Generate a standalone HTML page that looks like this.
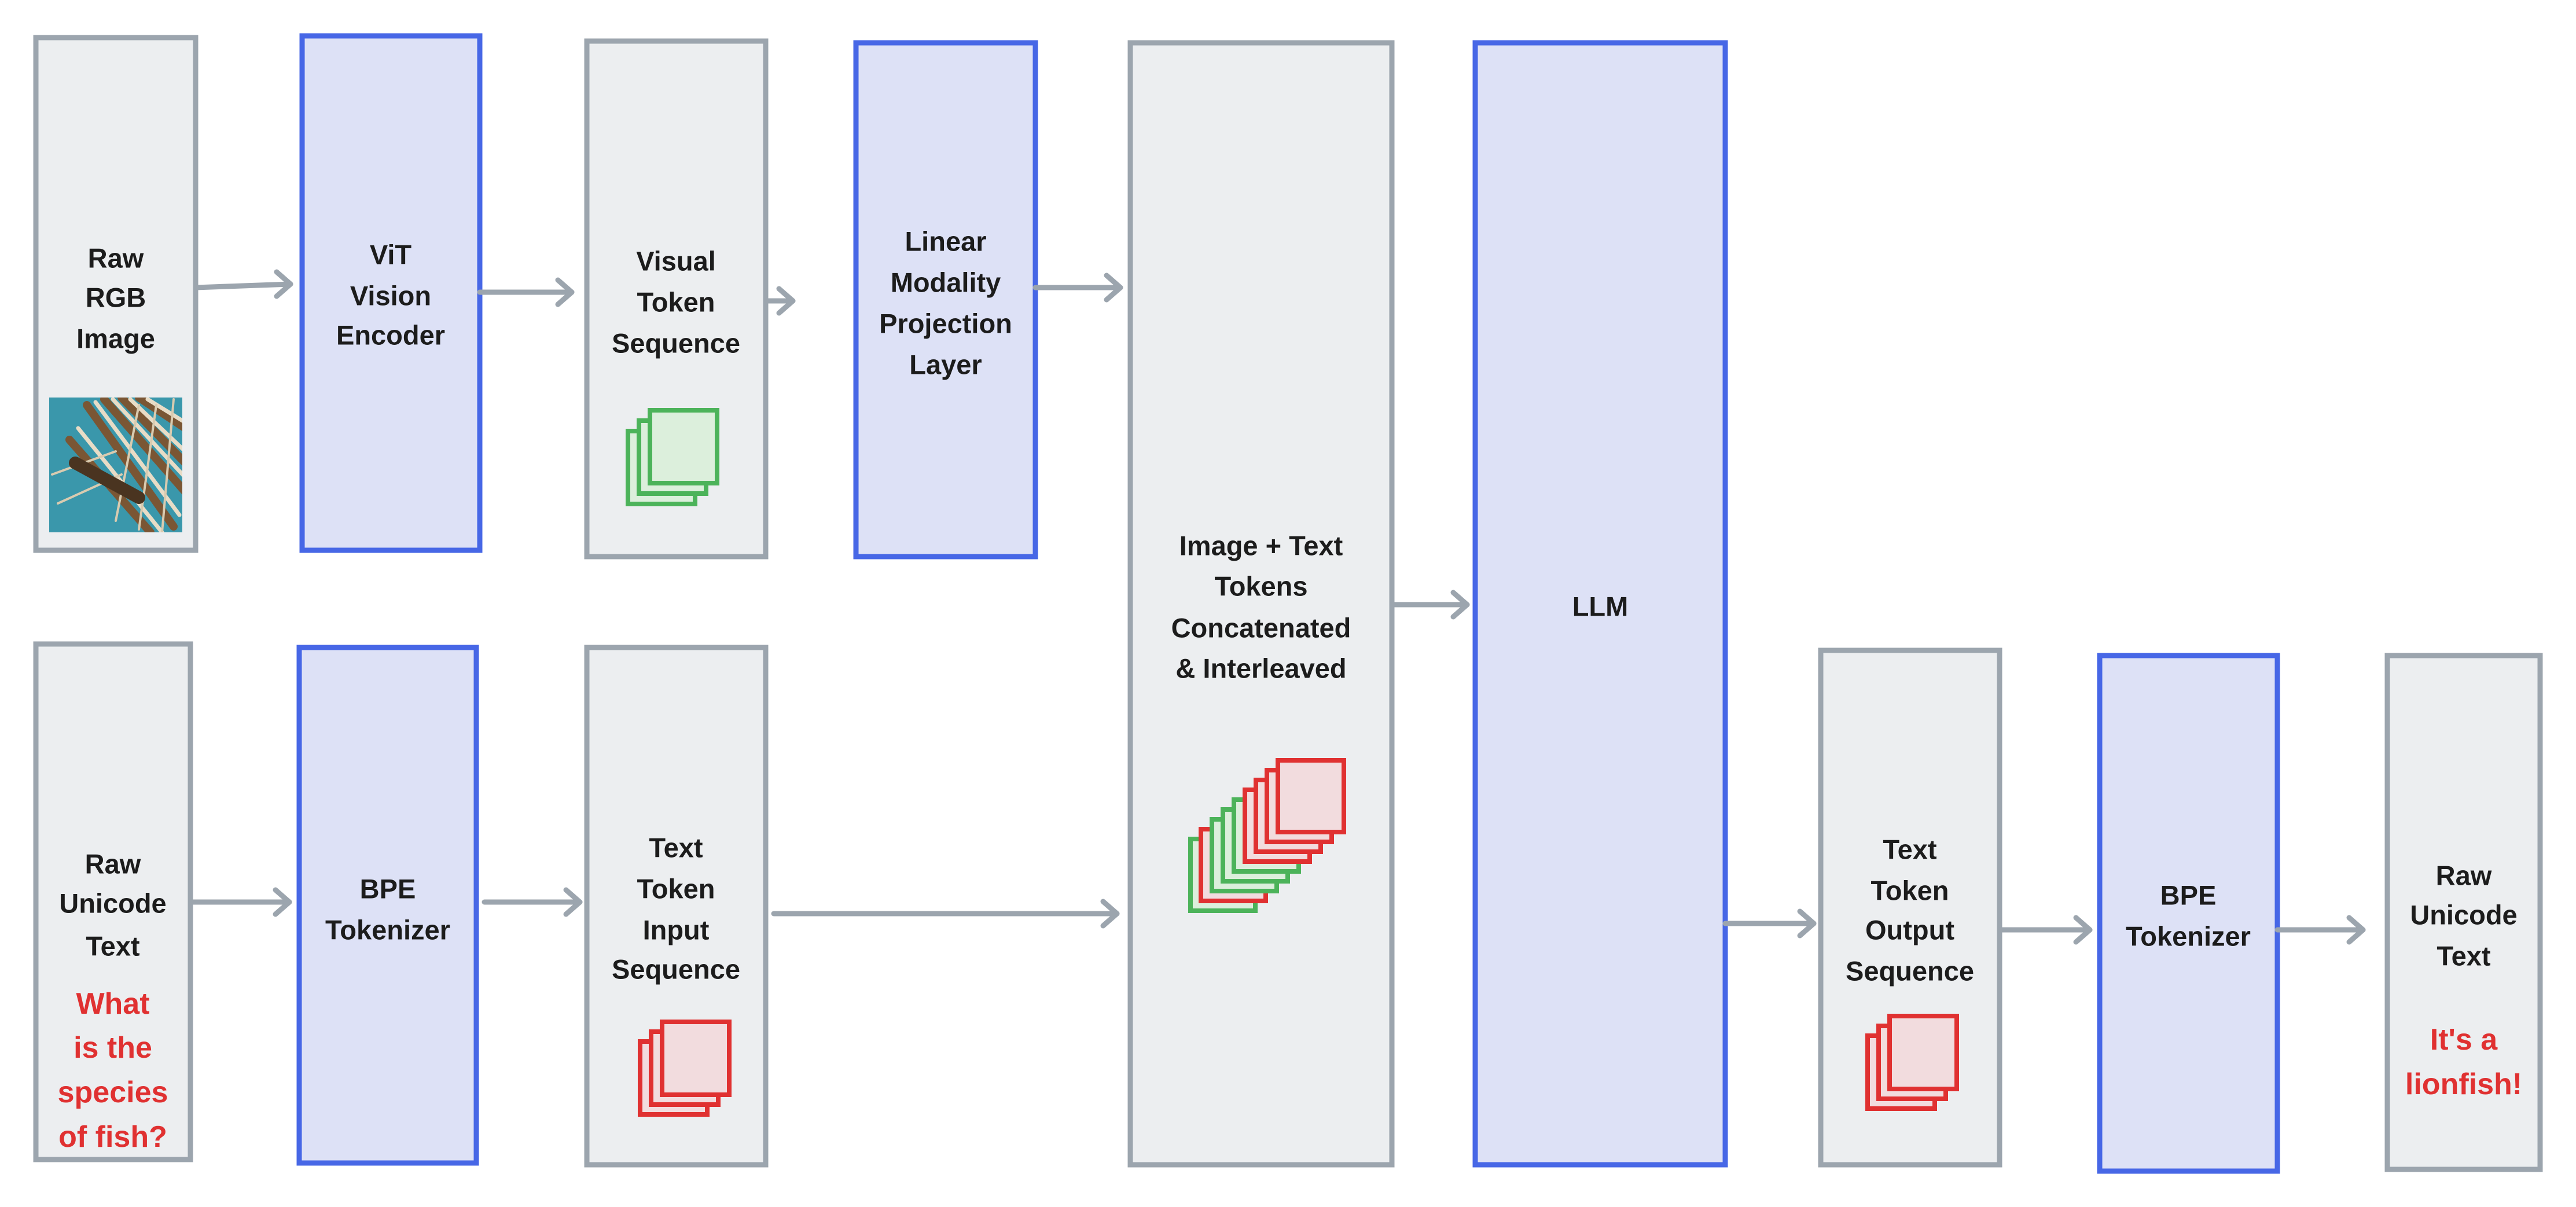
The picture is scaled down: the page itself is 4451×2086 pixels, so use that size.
<!DOCTYPE html>
<html><head><meta charset="utf-8"><style>
html,body{margin:0;padding:0;background:#fff;}
svg{display:block;}
text{font-family:"Liberation Sans",sans-serif;font-weight:bold;font-size:47px;fill:#1c1c1c;text-anchor:middle;dominant-baseline:central;}
.r{fill:#e03131;font-size:52px;}
.g{fill:#eceef0;stroke:#9ca5ae;stroke-width:9;}
.b{fill:#dde1f6;stroke:#4767e6;stroke-width:9;}
.a{fill:none;stroke:#9ca5ae;stroke-width:9;stroke-linecap:round;stroke-linejoin:round;}
.tg{fill:#dcefdc;stroke:#4cb35a;stroke-width:8;}
.tr{fill:#f2dcde;stroke:#e03131;stroke-width:8;}
</style></head><body>
<svg width="4451" height="2086" viewBox="0 0 4451 2086" xmlns="http://www.w3.org/2000/svg">
<rect class="g" x="62" y="65" width="276" height="886"/>
<rect class="b" x="522" y="62" width="307" height="889"/>
<rect class="g" x="1014" y="71" width="309" height="891"/>
<rect class="b" x="1479" y="74" width="310" height="888"/>
<rect class="g" x="1953" y="74" width="452" height="1939"/>
<rect class="b" x="2549" y="74" width="432" height="1939"/>
<rect class="g" x="62" y="1113" width="267" height="891"/>
<rect class="b" x="517" y="1119" width="306" height="891"/>
<rect class="g" x="1014" y="1119" width="309" height="894"/>
<rect class="g" x="3146" y="1124" width="309" height="889"/>
<rect class="b" x="3628" y="1133" width="307" height="891"/>
<rect class="g" x="4125" y="1133" width="264" height="888"/>

<defs><clipPath id="fc"><rect x="85" y="687" width="230" height="233"/></clipPath></defs>
<g clip-path="url(#fc)">
<rect x="85" y="687" width="230" height="233" fill="#3a97ab"/>
<g stroke-linecap="round">
<path d="M150 700 L300 910 M180 690 L320 850 M120 760 L260 920 M210 687 L320 800 M240 687 L320 740" stroke="#7a5634" stroke-width="14"/>
<path d="M165 695 L310 890 M195 690 L320 825 M135 740 L280 920 M225 690 L320 780 M255 690 L320 730" stroke="#e8dcc6" stroke-width="7"/>
<path d="M90 820 L200 780 M100 870 L210 820 M240 700 L200 900 M270 700 L240 915 M300 690 L280 920" stroke="#d9cbb0" stroke-width="4"/>
<path d="M130 800 L240 860" stroke="#4a3420" stroke-width="22"/>
</g>
</g>

<g class="a">
<path d="M338 497 L502 491"/><path d="M478 470 L502 491 L478 512"/>
<path d="M829 505 L988 505"/><path d="M964 484 L988 505 L964 526"/>
<path d="M1323 520 L1370 520"/><path d="M1346 499 L1370 520 L1346 541"/>
<path d="M1789 497 L1936 497"/><path d="M1912 476 L1936 497 L1912 518"/>
<path d="M2405 1045 L2535 1045"/><path d="M2511 1024 L2535 1045 L2511 1066"/>
<path d="M329 1559 L500 1559"/><path d="M476 1538 L500 1559 L476 1580"/>
<path d="M837 1559 L1002 1559"/><path d="M978 1538 L1002 1559 L978 1580"/>
<path d="M1337 1579 L1930 1579"/><path d="M1906 1558 L1930 1579 L1906 1600"/>
<path d="M2981 1596 L3134 1596"/><path d="M3110 1575 L3134 1596 L3110 1617"/>
<path d="M3455 1607 L3611 1607"/><path d="M3587 1586 L3611 1607 L3587 1628"/>
<path d="M3935 1607 L4083 1607"/><path d="M4059 1586 L4083 1607 L4059 1628"/>
</g>

<rect class="tg" x="1085" y="745" width="116" height="126"/>
<rect class="tg" x="1104" y="727" width="116" height="126"/>
<rect class="tg" x="1123" y="709" width="116" height="126"/>

<rect class="tr" x="1106" y="1800" width="116" height="126"/>
<rect class="tr" x="1125" y="1783" width="116" height="126"/>
<rect class="tr" x="1144" y="1766" width="116" height="126"/>

<rect class="tr" x="3227" y="1790" width="116" height="126"/>
<rect class="tr" x="3246" y="1773" width="116" height="126"/>
<rect class="tr" x="3265" y="1756" width="116" height="126"/>

<rect class="tg" x="2057" y="1450" width="112" height="124"/>
<rect class="tr" x="2075" y="1433" width="112" height="124"/>
<rect class="tg" x="2094" y="1416" width="112" height="124"/>
<rect class="tg" x="2113" y="1399" width="112" height="124"/>
<rect class="tg" x="2132" y="1382" width="112" height="124"/>
<rect class="tr" x="2151" y="1365" width="112" height="124"/>
<rect class="tr" x="2170" y="1348" width="112" height="124"/>
<rect class="tr" x="2189" y="1331" width="112" height="124"/>
<rect class="tr" x="2208" y="1314" width="114" height="124"/>

<text x="200" y="446">Raw</text><text x="200" y="514">RGB</text><text x="200" y="585">Image</text>
<text x="675" y="440">ViT</text><text x="675" y="511">Vision</text><text x="675" y="579">Encoder</text>
<text x="1168" y="451">Visual</text><text x="1168" y="522">Token</text><text x="1168" y="593">Sequence</text>
<text x="1634" y="417">Linear</text><text x="1634" y="488">Modality</text><text x="1634" y="559">Projection</text><text x="1634" y="630">Layer</text>
<text x="2179" y="943">Image + Text</text><text x="2179" y="1013">Tokens</text><text x="2179" y="1085">Concatenated</text><text x="2179" y="1155">&amp; Interleaved</text>
<text x="2765" y="1048">LLM</text>
<text x="195" y="1493">Raw</text><text x="195" y="1561">Unicode</text><text x="195" y="1635">Text</text>
<text class="r" x="195" y="1735">What</text><text class="r" x="195" y="1811">is the</text><text class="r" x="195" y="1888">species</text><text class="r" x="195" y="1965">of fish?</text>
<text x="670" y="1536">BPE</text><text x="670" y="1607">Tokenizer</text>
<text x="1168" y="1465">Text</text><text x="1168" y="1536">Token</text><text x="1168" y="1607">Input</text><text x="1168" y="1675">Sequence</text>
<text x="3300" y="1468">Text</text><text x="3300" y="1539">Token</text><text x="3300" y="1607">Output</text><text x="3300" y="1678">Sequence</text>
<text x="3781" y="1547">BPE</text><text x="3781" y="1618">Tokenizer</text>
<text x="4257" y="1513">Raw</text><text x="4257" y="1581">Unicode</text><text x="4257" y="1652">Text</text>
<text class="r" x="4257" y="1797">It's a</text><text class="r" x="4257" y="1874">lionfish!</text>
</svg>
</body></html>
